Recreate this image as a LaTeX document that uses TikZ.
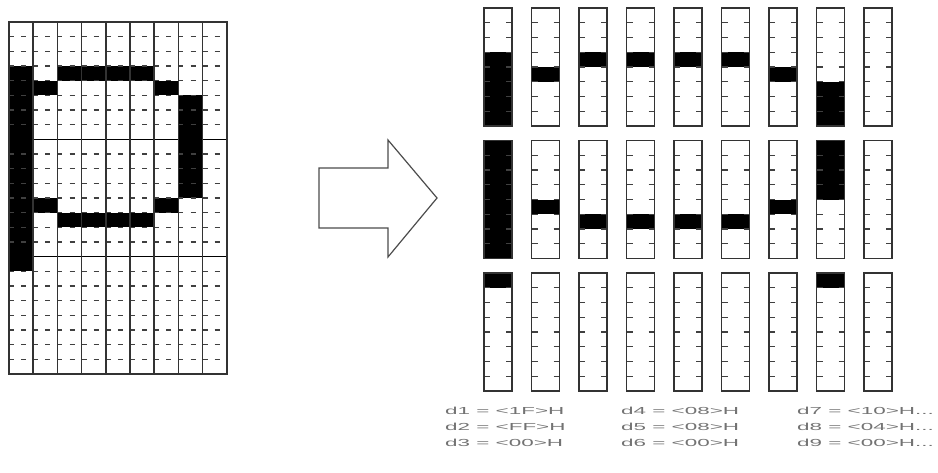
\documentclass[tikz,border=0pt]{standalone}
\usepackage{fontspec}
\setmainfont{Liberation Sans}
\begin{document}
\begin{tikzpicture}[x=1pt, y=-1pt,
    hexlbl/.style={anchor=west, inner sep=0pt, text=black!55, font=\fontsize{10.2}{12}\selectfont}]
    \useasboundingbox (0,0) rectangle (938,472);
    % left grid, 9 x 24 cells
    \foreach \ca/\cb/\ra/\rb in {0/1/3/17, 1/2/4/5, 2/6/3/4, 6/7/4/5, 7/8/5/12, 1/2/12/13, 6/7/12/13, 2/6/13/14}
      \fill ({9+24.2*\ca},{22+14.67*\ra}) rectangle ({9+24.2*\cb},{22+14.67*\rb});
    \foreach \r in {1,...,7,9,10,...,15,17,18,...,23}
      \draw[black!75, line width=1.2pt, dash pattern=on 5pt off 7.1pt] (9,{22+14.67*\r}) -- (227,{22+14.67*\r});
    \foreach \r in {8,16}
      \draw[line width=0.8pt] (9,{22+14.67*\r}) -- (227,{22+14.67*\r});
    \foreach \c in {1,...,8}
      \draw[black!80, line width=1.6pt] ({9+24.2*\c},22) -- ({9+24.2*\c},374);
    \draw[black!80, line width=1.6pt] (9,22) rectangle (227,374);
    % block arrow
    \draw[black!70, line width=1.2pt] (319,168) -- (388,168) -- (388,140) -- (437,198)
      -- (388,257) -- (388,228) -- (319,228) -- cycle;
    % right columns, 3 bytes each
    \foreach \c/\s/\ra/\rb in {0/0/3/8, 0/1/0/8, 0/2/0/1, 1/0/4/5, 1/1/4/5, 2/0/3/4, 2/1/5/6,
        3/0/3/4, 3/1/5/6, 4/0/3/4, 4/1/5/6, 5/0/3/4, 5/1/5/6, 6/0/4/5, 6/1/4/5,
        7/0/5/8, 7/1/0/4, 7/2/0/1}
      \fill ({484+47.5*\c},{8+132.5*\s+14.75*\ra}) rectangle ({512+47.5*\c},{8+132.5*\s+14.75*\rb});
    \foreach \c in {0,...,8}
      \foreach \s in {0,1,2} {
        \foreach \r in {1,...,7}
          \draw[black!75, line width=1.2pt, dash pattern=on 6pt off 16pt]
            ({484+47.5*\c},{8+132.5*\s+14.75*\r}) -- ++(28,0);
        \draw[black!80, line width=1.6pt] ({484+47.5*\c},{8+132.5*\s}) rectangle ++(28,118);
      }
    % byte values
    \node[hexlbl] (d1) at (445,411) {\scalebox{2.2}[1]{d1 = <1F>H}};
    \node[hexlbl] (d2) at (445,427) {\scalebox{2.2}[1]{d2 = <FF>H}};
    \node[hexlbl] (d3) at (445,443) {\scalebox{2.2}[1]{d3 = <00>H}};
    \node[hexlbl] (d4) at (621,411) {\scalebox{2.2}[1]{d4 = <08>H}};
    \node[hexlbl] (d5) at (621,427) {\scalebox{2.2}[1]{d5 = <08>H}};
    \node[hexlbl] (d6) at (621,443) {\scalebox{2.2}[1]{d6 = <00>H}};
    \node[hexlbl] (d7) at (797,411) {\scalebox{2.2}[1]{d7 = <10>H...}};
    \node[hexlbl] (d8) at (797,427) {\scalebox{2.2}[1]{d8 = <04>H...}};
    \node[hexlbl] (d9) at (797,443) {\scalebox{2.2}[1]{d9 = <00>H...}};
\end{tikzpicture}
\end{document}
